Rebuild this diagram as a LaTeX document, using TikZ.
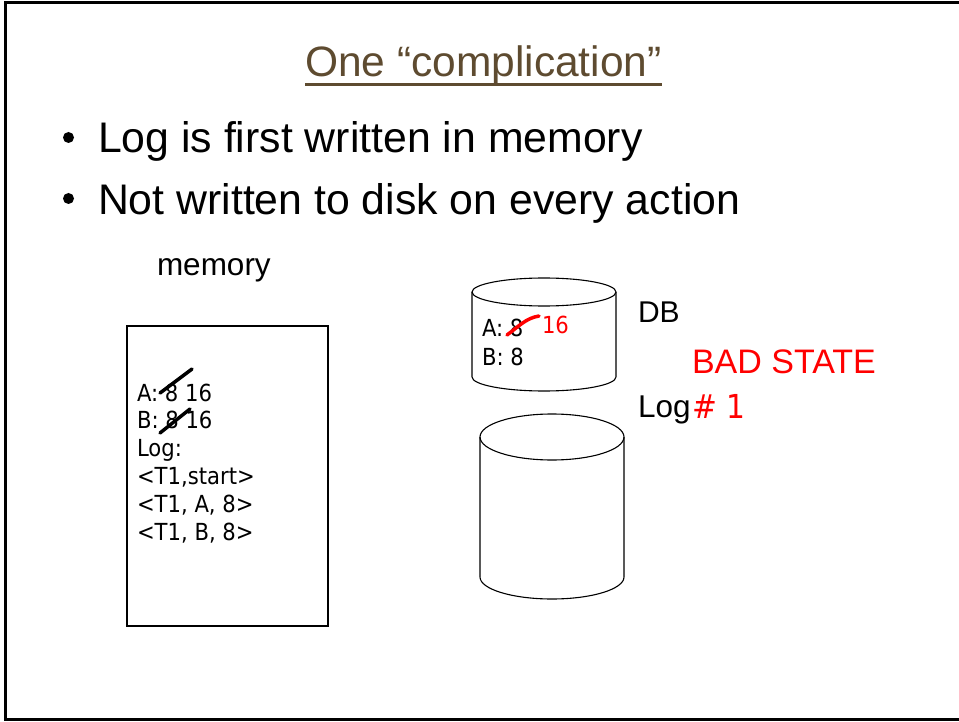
\documentclass[tikz,border=0pt]{standalone}
\usepackage{fontspec}
\setmainfont{Liberation Sans}
\newfontfamily\boxfont[FakeStretch=0.9]{DejaVu Sans}
\definecolor{titlebrown}{RGB}{94,75,48}
\definecolor{alertred}{RGB}{255,0,0}
\tikzset{
  txt/.style={inner sep=0pt, outer sep=0pt, anchor=base west},
  bigtxt/.style={txt, font=\fontsize{42.8}{50}\selectfont},
  midtxt/.style={txt, font=\fontsize{31.5}{37}\selectfont},
  celltxt/.style={txt, font=\boxfont\fontsize{23.5}{28}\selectfont},
  strike/.style={line width=3.5pt, line cap=round},
  outline/.style={line width=1.1pt},
}
\begin{document}
\begin{tikzpicture}[x=1pt,y=-1pt]
  \useasboundingbox (0,0) rectangle (959,722);
  % slide frame
  \draw[line width=3pt] (959,2.5) -- (5.5,2.5) -- (5.5,719.5) -- (959,719.5);

  % title
  \node[txt, font=\fontsize{42.5}{50}\selectfont, text=titlebrown] (title) at (305,77) {One “complication”};
  \draw[titlebrown, line width=2.5pt] (title.south west |- 0,84.5) -- (title.south east |- 0,84.5);

  % bullets
  \fill (68.5,137.5) circle[radius=5.5pt] coordinate (dot1);
  \fill (68.5,198.5) circle[radius=5.5pt] coordinate (dot2);
  \node[bigtxt] (b1) at (98,153) {Log is first written in memory};
  \node[bigtxt] (b2) at (98,215) {Not written to disk on every action};

  % memory buffer
  \node[midtxt] (memlabel) at (157,276) {memory};
  \draw[outline] (127,326) rectangle (328,626);
  \node[celltxt] (memA) at (137,401) {A: 8 16};
  \node[celltxt] (memB) at (137,428.8) {B: 8 16};
  \node[celltxt] (memlog) at (137,456.6) {Log:};
  \node[celltxt] (rec1) at (137,484.4) {<T1,start>};
  \node[celltxt] (rec2) at (137,512.2) {<T1, A, 8>};
  \node[celltxt] (rec3) at (137,540) {<T1, B, 8>};
  \draw[strike] (160,393) -- (192,369);
  \draw[strike] (160,433) -- (190,409);

  % database disk
  \draw[outline] (472,292) -- (472,377) arc[start angle=180, end angle=0, x radius=72, y radius=14] -- (616,292);
  \draw[outline] (544,292) ellipse[x radius=72, y radius=14];
  \node[celltxt] (dbA) at (482,336) {A: 8};
  \node[celltxt] (dbB) at (482,365) {B: 8};
  \node[celltxt, text=alertred] (dbnew) at (542,333) {16};
  \draw[strike, alertred] (507,335) .. controls (518,327) and (526,318) .. (539,316);

  % log disk
  \draw[outline] (480,437) -- (480,577) arc[start angle=180, end angle=0, x radius=72, y radius=22] -- (624,437);
  \draw[outline] (552,437) ellipse[x radius=72, y radius=23];

  % labels beside the disks
  \node[txt, font=\fontsize{30}{36}\selectfont] (dblabel) at (638,323) {DB};
  \node[txt, font=\fontsize{34}{40}\selectfont, text=alertred] (bad) at (692,373) {BAD STATE};
  \node[midtxt] (loglabel) at (638,417) {Log};
  \node[txt, font=\boxfont\fontsize{33}{38}\selectfont, text=alertred] (lognum) at (692,418) {\# 1};
\end{tikzpicture}
\end{document}
